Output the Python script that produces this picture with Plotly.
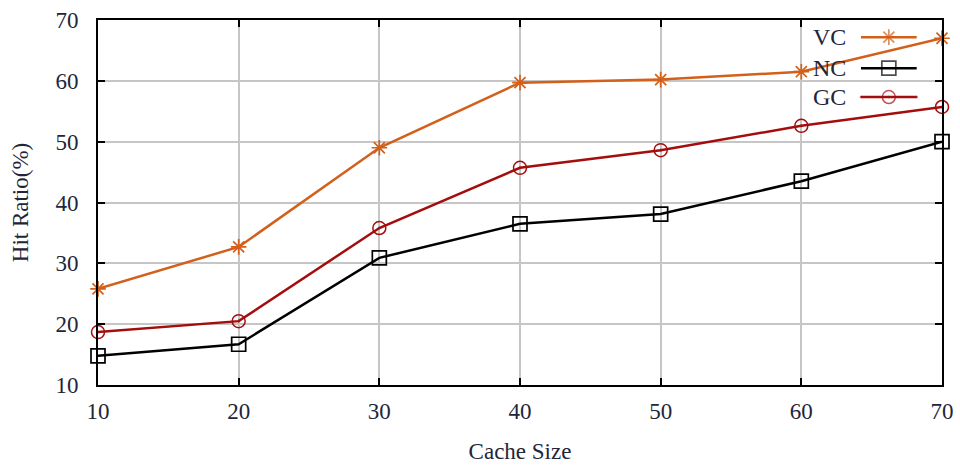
import plotly.graph_objects as go

# Cache size (x) and hit ratio (%) for each caching scheme
cache_size = [10, 20, 30, 40, 50, 60, 70]
vc_hit = [25.8, 32.7, 49.0, 59.7, 60.2, 61.5, 67.0]
nc_hit = [14.8, 16.7, 30.9, 36.5, 38.1, 43.5, 50.0]
gc_hit = [18.7, 20.5, 35.8, 45.7, 48.6, 52.6, 55.7]

x_ticks = [10, 20, 30, 40, 50, 60, 70]
y_ticks = [10, 20, 30, 40, 50, 60, 70]

VC_COLOR = "#d2601a"
NC_COLOR = "#000000"
GC_COLOR = "#a30d0d"
TEXT_COLOR = "#1e2638"
FONT = "Liberation Serif, Times New Roman, serif"

series = [
    ("VC", vc_hit, VC_COLOR, "asterisk-open", 13, 1.7),
    ("NC", nc_hit, NC_COLOR, "square-open", 14, 1.7),
    ("GC", gc_hit, GC_COLOR, "circle-open-dot", 13, 1.5),
]

fig = go.Figure()
for name, vals, color, symbol, size, mlw in series:
    fig.add_trace(go.Scatter(
        x=cache_size, y=vals, name=name, mode="lines+markers",
        line=dict(color=color, width=2.5),
        marker=dict(symbol=symbol, size=size, color=color,
                    line=dict(color=color, width=mlw)),
        cliponaxis=False, showlegend=False,
    ))

# Key drawn in the upper-right corner: label on the left, sample on the right
key_rows = [0.953, 0.868, 0.789]
key_x0, key_x1 = 0.904, 0.970
annotations = []
for (name, vals, color, symbol, size, mlw), ky in zip(series, key_rows):
    fig.add_trace(go.Scatter(
        x=[key_x0, (key_x0 + key_x1) / 2, key_x1], y=[ky, ky, ky],
        xaxis="x2", yaxis="y2", mode="lines+markers",
        line=dict(color=color, width=2.5),
        marker=dict(symbol=symbol, size=[0, size, 0], color=color,
                    line=dict(color=color, width=mlw)),
        showlegend=False, hoverinfo="skip",
    ))
    annotations.append(dict(
        x=0.889, y=ky, xref="paper", yref="paper", text=name,
        showarrow=False, xanchor="right", yanchor="middle",
        font=dict(family=FONT, size=24, color=TEXT_COLOR),
    ))

fig.update_layout(
    width=960, height=468,
    margin=dict(l=98, r=18, t=20, b=83),
    paper_bgcolor="white", plot_bgcolor="white",
    font=dict(family=FONT, size=23, color=TEXT_COLOR),
    annotations=annotations,
    shapes=[dict(type="rect", xref="paper", yref="paper",
                 x0=0.846, x1=0.983, y0=0.755, y1=0.995,
                 fillcolor="white", line=dict(width=0), layer="between")],
    xaxis=dict(
        range=[10, 70], tickvals=x_ticks, ticktext=[str(v) for v in x_ticks],
        tickfont=dict(family=FONT, size=23, color=TEXT_COLOR),
        showgrid=True, gridcolor="#c6c6c6", gridwidth=2,
        showline=True, linecolor="black", linewidth=2, mirror="ticks",
        ticks="inside", ticklen=7, tickcolor="black", tickwidth=1.5,
        ticklabelstandoff=4, zeroline=False, automargin=False,
        title=dict(text="Cache Size", standoff=20,
                   font=dict(family=FONT, size=23, color=TEXT_COLOR)),
    ),
    yaxis=dict(
        range=[10, 70], tickvals=y_ticks, ticktext=[str(v) for v in y_ticks],
        tickfont=dict(family=FONT, size=23, color=TEXT_COLOR),
        showgrid=True, gridcolor="#c6c6c6", gridwidth=2,
        showline=True, linecolor="black", linewidth=2, mirror="ticks",
        ticks="inside", ticklen=7, tickcolor="black", tickwidth=1.5,
        ticklabelstandoff=13, zeroline=False, automargin=False,
        title=dict(text="Hit Ratio(%)", standoff=20,
                   font=dict(family=FONT, size=23, color=TEXT_COLOR)),
    ),
    xaxis2=dict(domain=[0, 1], range=[0, 1], overlaying="x", visible=False,
                anchor="y2"),
    yaxis2=dict(domain=[0, 1], range=[0, 1], overlaying="y", visible=False,
                anchor="x2"),
)

fig.write_html("out.html")
